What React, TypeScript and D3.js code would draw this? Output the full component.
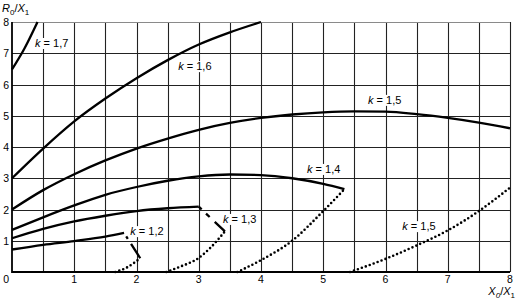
import React from 'react';
import * as d3 from 'd3';

const W = 516;
const H = 302;

const xTickValues = [0, 1, 2, 3, 4, 5, 6, 7, 8];
const yTickValues = [1, 2, 3, 4, 5, 6, 7, 8];
const xGridValues = [0.5, 1, 1.5, 2, 2.5, 3, 3.5, 4, 4.5, 5, 5.5, 6, 6.5, 7, 7.5, 8];
const yGridValues = [1, 2, 3, 4, 5, 6, 7, 8];

type P = [number, number];

const k17: P[] = [[0, 6.48], [0.2, 7.15], [0.41, 8]];
const k16: P[] = [[0, 3], [0.5, 3.95], [1, 4.82], [1.5, 5.55], [2, 6.2], [2.5, 6.78], [3, 7.28], [3.5, 7.67], [4, 8]];
const k15: P[] = [[0, 2], [0.5, 2.62], [1, 3.13], [1.5, 3.57], [2, 3.95], [2.5, 4.27], [3, 4.55], [3.5, 4.77], [4, 4.93], [4.5, 5.04], [5, 5.11], [5.5, 5.14], [6, 5.13], [6.5, 5.05], [7, 4.93], [7.5, 4.78], [8, 4.6]];
const k14: P[] = [[0, 1.35], [0.5, 1.75], [1, 2.13], [1.5, 2.47], [2, 2.72], [2.5, 2.92], [3, 3.06], [3.5, 3.12], [4, 3.1], [4.5, 3.0], [5, 2.82], [5.34, 2.65]];
const k13: P[] = [[0, 1.08], [0.5, 1.38], [1, 1.62], [1.5, 1.8], [2, 1.95], [2.5, 2.04], [3, 2.09]];
const k12: P[] = [[0, 0.72], [0.5, 0.87], [1, 0.99], [1.5, 1.13], [1.8, 1.25]];

const k13Tail: P[] = [[3, 2.09], [3.42, 1.3]];
const k12Tail: P[] = [[1.8, 1.25], [2.06, 0.44]];

const k15Dot: P[] = [[5.43, 0], [6, 0.42], [6.5, 0.85], [7, 1.33], [7.5, 1.95], [8, 2.7]];
const k14Dot: P[] = [[3.62, 0], [4, 0.38], [4.5, 1.0], [5, 1.95], [5.34, 2.65]];
const k13Dot: P[] = [[2.48, 0], [2.7, 0.17], [3, 0.45], [3.2, 0.8], [3.42, 1.3]];
const k12Dot: P[] = [[1.66, 0], [1.85, 0.15], [2.06, 0.44]];

const labelTexts = ['1,7', '1,6', '1,5', '1,4', '1,3', '1,2', '1,5'];
const labelAnchors: P[] = [[0.37, 7.2], [2.67, 6.46], [5.72, 5.38], [4.74, 3.17], [3.39, 1.57], [1.9, 1.18], [6.27, 1.34]];

const x = d3.scaleLinear().domain([0, 8]).range([12, 510]);
const y = d3.scaleLinear().domain([0, 8]).range([272, 22]);

const smooth = d3.line<P>().x(d => x(d[0])).y(d => y(d[1])).curve(d3.curveMonotoneX);
const straight = d3.line<P>().x(d => x(d[0])).y(d => y(d[1]));

const FONT = "'Liberation Sans', Arial, Helvetica, sans-serif";

const px = (v: number) => Math.round(v) + 0.5;

export default function App() {
  const solids = [k17, k16, k15, k14, k13, k12];
  const dots = [k15Dot, k14Dot, k13Dot, k12Dot];
  return (
    <div style={{ position: 'fixed', left: 0, top: 0, width: W, height: H, background: '#fff' }}>
      <svg width={W} height={H} style={{ display: 'block' }} fontFamily={FONT}>
        <rect x={0} y={0} width={W} height={H} fill="#fff" />
        <g>
          {xGridValues.map(v => (
            <path key={'gx' + v} d={`M${px(x(v))},${y(0)}V${y(8)}`} stroke="#222222" strokeWidth={1.1} fill="none" />
          ))}
          {yGridValues.map(v => (
            <path key={'gy' + v} d={`M${x(0)},${px(y(v))}H${x(8)}`} stroke={v === 8 ? '#8a8a8a' : '#222222'} strokeWidth={1.1} fill="none" />
          ))}
        </g>
        <line x1={x(0)} x2={x(0)} y1={y(0) + 1} y2={y(8)} stroke="#000" strokeWidth={1.8} />
        <line x1={x(0)} x2={x(8)} y1={y(0)} y2={y(0)} stroke="#000" strokeWidth={1.8} />
        {labelAnchors.map((a, i) => (
          <rect key={'lb' + i} x={x(a[0]) - 1} y={y(a[1]) - 9} width={36} height={11} fill="#fff" />
        ))}
        {solids.map((c, i) => (
          <path key={'s' + i} d={smooth(c) || ''} fill="none" stroke="#000" strokeWidth={2.3} />
        ))}
        <path d={straight(k13Tail) || ''} fill="none" stroke="#000" strokeWidth={2.3} strokeDasharray="4 6 5 7 20" />
        <path d={straight(k12Tail) || ''} fill="none" stroke="#000" strokeWidth={2.3} strokeDasharray="0 4 3 6 20" />
        {dots.map((c, i) => (
          <path key={'d' + i} d={smooth(c) || ''} fill="none" stroke="#000" strokeWidth={2.6} strokeLinecap="round" strokeDasharray="0 4.2" />
        ))}
        {labelAnchors.map((a, i) => (
          <text key={'lt' + i} x={x(a[0])} y={y(a[1])} fontSize={11} fill="#000">
            <tspan fontStyle="italic">k</tspan> = {labelTexts[i]}
          </text>
        ))}
        {xTickValues.map(v => (
          <text key={'xt' + v} x={v === 0 ? 9 : x(v)} y={283} fontSize={10.5} textAnchor={v === 0 ? 'end' : 'middle'} fill="#000">{v}</text>
        ))}
        {yTickValues.map(v => (
          <text key={'yt' + v} x={9} y={y(v) + 4} fontSize={10.5} textAnchor="end" fill="#000">{v}</text>
        ))}
        <text x={2} y={12} fontSize={11} fill="#000">
          <tspan fontStyle="italic">R</tspan>
          <tspan fontSize={8} dy={3}>0</tspan>
          <tspan dy={-3}>/</tspan>
          <tspan fontStyle="italic">X</tspan>
          <tspan fontSize={8} dy={3}>1</tspan>
        </text>
        <text x={515} y={295} fontSize={11} textAnchor="end" fill="#000">
          <tspan fontStyle="italic">X</tspan>
          <tspan fontSize={8} dy={2.5} fontStyle="italic">0</tspan>
          <tspan dy={-2.5}>/</tspan>
          <tspan fontStyle="italic">X</tspan>
          <tspan fontSize={8} dy={2.5}>1</tspan>
        </text>
      </svg>
    </div>
  );
}
